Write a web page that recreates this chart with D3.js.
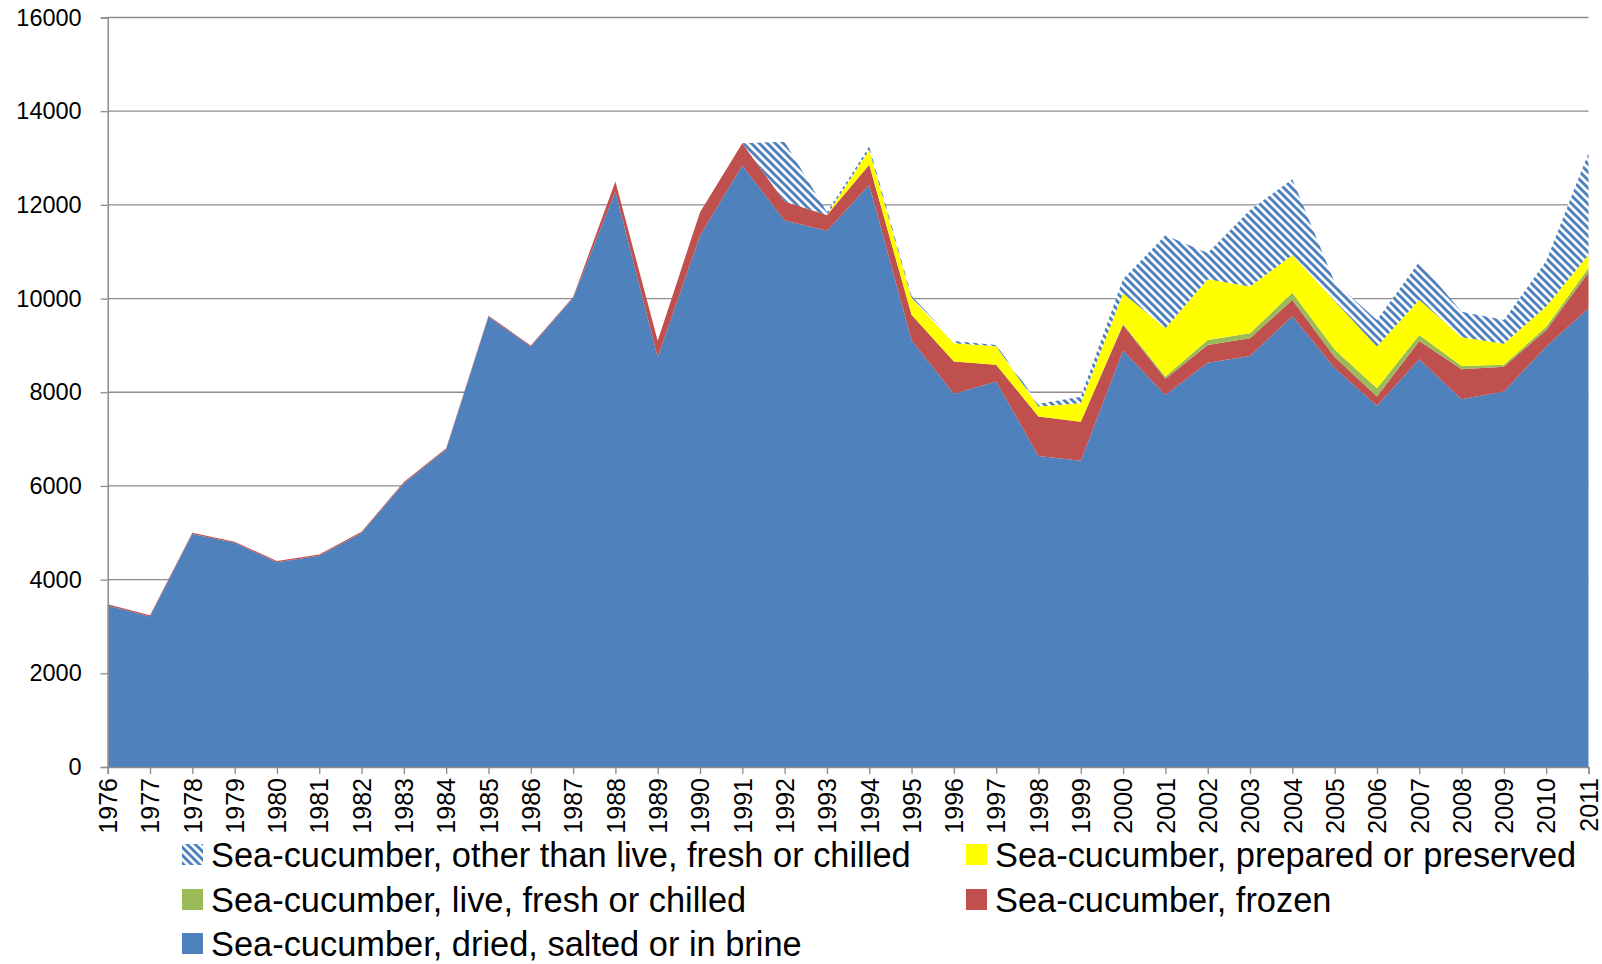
<!DOCTYPE html>
<html>
<head>
<meta charset="utf-8">
<script src="https://cdn.jsdelivr.net/npm/d3@7"></script>
<style>
  html, body { margin: 0; padding: 0; background: #fff; }
  svg { display: block; }
  text { font-family: "Liberation Sans", Arial, sans-serif; fill: #000; }
</style>
</head>
<body>
<svg id="chart" width="1602" height="964"></svg>
<script>
const years = d3.range(1976, 2012);

const dried = [3450, 3215, 4975, 4785, 4370, 4510, 4995, 6060, 6780, 9610, 8975, 10010,
  12285, 8745, 11345, 12840, 11665, 11445, 12425, 9110, 7970, 8230, 6640, 6540,
  8890, 7940, 8630, 8775, 9625, 8520, 7710, 8705, 7850, 8015, 8975, 9795];

const frozen = [25, 25, 25, 25, 25, 25, 25, 25, 25, 25, 25, 25,
  215, 355, 500, 475, 405, 340, 430, 545, 685, 355, 840, 830,
  545, 350, 380, 380, 345, 230, 200, 390, 640, 530, 355, 760];

const live = [0, 0, 0, 0, 0, 0, 0, 0, 0, 0, 0, 0,
  0, 0, 0, 0, 0, 0, 0, 0, 0, 0, 0, 0,
  20, 45, 105, 105, 155, 160, 175, 125, 70, 40, 70, 95];

const prepared = [0, 0, 0, 0, 0, 0, 0, 0, 0, 0, 0, 0,
  0, 0, 0, 0, 0, 0, 320, 355, 390, 395, 215, 395,
  660, 1030, 1295, 995, 805, 1040, 890, 755, 615, 450, 430, 285];

const other = [0, 0, 0, 0, 0, 0, 0, 0, 0, 0, 0, 0,
  0, 0, 0, 0, 1280, 60, 70, 50, 50, 30, 60, 140,
  300, 1985, 560, 1635, 1615, 400, 570, 810, 545, 510, 970, 2170];

const yTicks = [0, 2000, 4000, 6000, 8000, 10000, 12000, 14000, 16000];

const seriesNames = [
  "Sea-cucumber, dried, salted or in brine",
  "Sea-cucumber, frozen",
  "Sea-cucumber, live, fresh or chilled",
  "Sea-cucumber, prepared or preserved",
  "Sea-cucumber, other than live, fresh or chilled"
];
const seriesKeys = ["dried", "frozen", "live", "prepared", "other"];
const seriesFill = {
  dried: "#4F81BD", frozen: "#C0504D", live: "#9BBB59",
  prepared: "#FFFF00", other: "url(#hatch)"
};

const table = years.map((yr, i) => ({
  year: yr, dried: dried[i], frozen: frozen[i], live: live[i],
  prepared: prepared[i], other: other[i]
}));

const svg = d3.select("#chart");
const plotL = 107.7, plotR = 1588.5, plotT = 17.5, plotB = 767;

const x = d3.scalePoint().domain(years).range([plotL, plotR]);
const y = d3.scaleLinear().domain([0, 16000]).range([plotB, plotT]);

const defs = svg.append("defs");
const pat = defs.append("pattern").attr("id", "hatch")
  .attr("patternUnits", "userSpaceOnUse").attr("width", 8).attr("height", 8);
pat.append("rect").attr("width", 8).attr("height", 8).attr("fill", "#fff");
pat.append("path").attr("d", "M-2,-2 L10,10 M-2,6 L2,10 M6,-2 L10,2")
  .attr("stroke", "#4F81BD").attr("stroke-width", 3);

svg.append("g").selectAll("line").data(yTicks.filter(d => d > 0)).join("line")
  .attr("x1", plotL).attr("x2", plotR)
  .attr("y1", d => y(d)).attr("y2", d => y(d))
  .attr("stroke", "#8C8C8C").attr("stroke-width", 1.3);

const stack = d3.stack().keys(seriesKeys);
const layers = stack(table);
const area = d3.area()
  .x(d => x(d.data.year))
  .y0(d => y(d[0]))
  .y1(d => y(d[1]));

svg.append("g").selectAll("path").data(layers).join("path")
  .attr("d", area)
  .attr("fill", d => seriesFill[d.key]);

const yAxis = d3.axisLeft(y).tickValues(yTicks).tickSize(7).tickPadding(19)
  .tickFormat(d3.format("d"));
const gy = svg.append("g").attr("transform", `translate(${plotL},0)`).call(yAxis);
gy.select(".domain").attr("stroke", "#8C8C8C").attr("stroke-width", 1.5);
gy.selectAll(".tick line").attr("stroke", "#8C8C8C").attr("stroke-width", 1.3);
gy.selectAll(".tick text").style("font-size", "23.5px")
  .style("font-family", "'Liberation Sans', Arial, sans-serif");

const xAxis = d3.axisBottom(x).tickSize(7).tickPadding(0);
const gx = svg.append("g").attr("transform", `translate(0,${plotB})`).call(xAxis);
gx.select(".domain").attr("stroke", "#8C8C8C").attr("stroke-width", 1.5);
gx.selectAll(".tick line").attr("stroke", "#8C8C8C").attr("stroke-width", 1.3);
gx.selectAll(".tick text")
  .style("font-size", "25px")
  .style("font-family", "'Liberation Sans', Arial, sans-serif")
  .attr("text-anchor", "end")
  .attr("dy", "0.35em")
  .attr("x", -11)
  .attr("y", 0)
  .attr("transform", "rotate(-90)");

const legendItems = [
  { key: "other", col: 0, row: 0 },
  { key: "prepared", col: 1, row: 0 },
  { key: "live", col: 0, row: 1 },
  { key: "frozen", col: 1, row: 1 },
  { key: "dried", col: 0, row: 2 }
];
const colX = [182, 966];
const rowY = [855, 900, 944];
const lg = svg.append("g");
const li = lg.selectAll("g").data(legendItems).join("g")
  .attr("transform", d => `translate(${colX[d.col]},${rowY[d.row]})`);
li.append("rect").attr("x", 0).attr("y", -11).attr("width", 21).attr("height", 21)
  .attr("fill", d => seriesFill[d.key]);
li.append("text").attr("x", 29).attr("y", 0).attr("dy", "0.36em")
  .style("font-size", "34.4px")
  .text(d => seriesNames[seriesKeys.indexOf(d.key)]);
</script>
</body>
</html>
